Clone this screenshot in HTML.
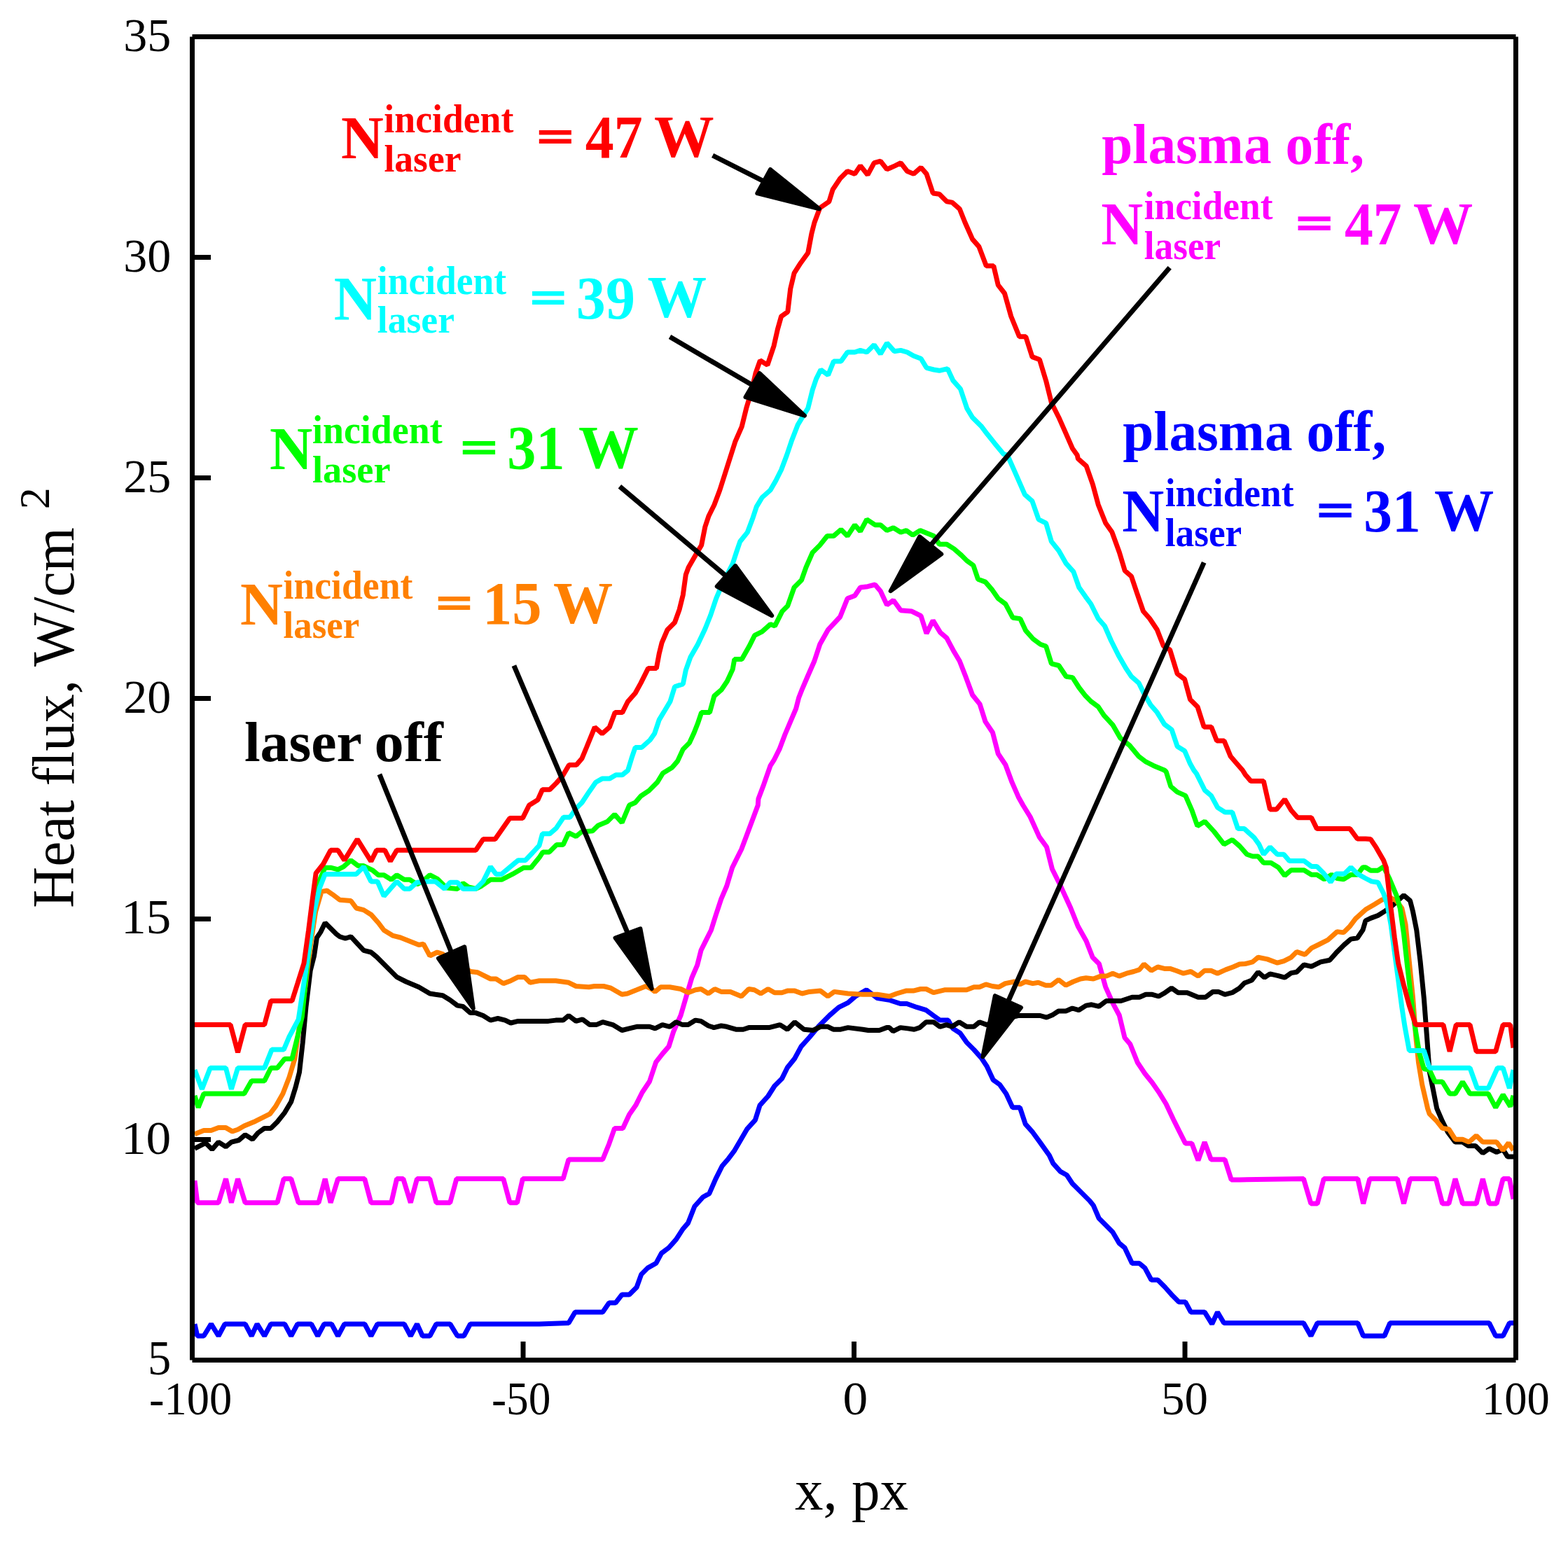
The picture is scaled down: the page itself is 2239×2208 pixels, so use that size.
<!DOCTYPE html>
<html><head><meta charset="utf-8">
<style>
html,body{margin:0;padding:0;background:#fff;overflow:hidden;}
svg{display:block;}
.c{fill:none;stroke-width:7;stroke-linejoin:bevel;stroke-linecap:butt;}
text{font-family:"Liberation Serif","Times New Roman",serif;}
</style></head><body>
<svg width="2239" height="2208" viewBox="0 0 2239 2208">
<rect x="0" y="0" width="2239" height="2208" fill="#fff"/>
<text transform="matrix(0.9780 0 0 1.0175 487.04 225.50)" font-size="86" font-weight="bold" fill="#ff0000">N</text>
<text transform="matrix(0.9261 0 0 0.9732 548.37 189.03)" font-size="58" font-weight="bold" fill="#ff0000">incident</text>
<text transform="matrix(0.9248 0 0 0.9463 548.38 244.85)" font-size="58" font-weight="bold" fill="#ff0000">laser</text>
<text transform="matrix(1.0744 0 0 0.7370 766.68 216.86)" font-size="86" font-weight="bold" fill="#ff0000" stroke="#ff0000" stroke-width="2.9">=</text>
<text transform="matrix(0.9518 0 0 1.0103 835.85 224.69)" font-size="86" font-weight="bold" fill="#ff0000">47</text>
<text transform="matrix(0.9964 0 0 0.9763 934.00 223.75)" font-size="86" font-weight="bold" fill="#ff0000">W</text>
<text transform="matrix(0.9864 0 0 1.0211 476.83 456.00)" font-size="86" font-weight="bold" fill="#00ffff">N</text>
<text transform="matrix(0.9226 0 0 0.9732 538.78 419.73)" font-size="58" font-weight="bold" fill="#00ffff">incident</text>
<text transform="matrix(0.9248 0 0 0.9512 538.78 474.95)" font-size="58" font-weight="bold" fill="#00ffff">laser</text>
<text transform="matrix(1.0605 0 0 0.7407 757.12 446.61)" font-size="86" font-weight="bold" fill="#00ffff" stroke="#00ffff" stroke-width="2.9">=</text>
<text transform="matrix(0.9775 0 0 1.0136 822.87 454.99)" font-size="86" font-weight="bold" fill="#00ffff">39</text>
<text transform="matrix(0.9833 0 0 0.9746 924.42 453.45)" font-size="86" font-weight="bold" fill="#00ffff">W</text>
<text transform="matrix(0.9864 0 0 1.0158 384.93 669.90)" font-size="86" font-weight="bold" fill="#00ff00">N</text>
<text transform="matrix(0.9296 0 0 0.9732 445.97 633.13)" font-size="58" font-weight="bold" fill="#00ff00">incident</text>
<text transform="matrix(0.9368 0 0 0.9366 445.96 688.66)" font-size="58" font-weight="bold" fill="#00ff00">laser</text>
<text transform="matrix(1.0791 0 0 0.7370 657.66 660.76)" font-size="86" font-weight="bold" fill="#00ff00" stroke="#00ff00" stroke-width="2.9">=</text>
<text transform="matrix(0.9557 0 0 1.0271 724.33 669.47)" font-size="86" font-weight="bold" fill="#00ff00">31</text>
<text transform="matrix(0.9988 0 0 1.0034 825.90 668.49)" font-size="86" font-weight="bold" fill="#00ff00">W</text>
<text transform="matrix(0.9831 0 0 1.0211 343.03 892.00)" font-size="86" font-weight="bold" fill="#ff8000">N</text>
<text transform="matrix(0.9256 0 0 0.9732 404.47 855.43)" font-size="58" font-weight="bold" fill="#ff8000">incident</text>
<text transform="matrix(0.9128 0 0 0.9585 404.49 910.94)" font-size="58" font-weight="bold" fill="#ff8000">laser</text>
<text transform="matrix(1.0605 0 0 0.7370 622.82 882.76)" font-size="86" font-weight="bold" fill="#ff8000" stroke="#ff8000" stroke-width="2.9">=</text>
<text transform="matrix(0.9842 0 0 1.0172 688.91 890.68)" font-size="86" font-weight="bold" fill="#ff8000">15</text>
<text transform="matrix(0.9905 0 0 0.9746 790.11 889.75)" font-size="86" font-weight="bold" fill="#ff8000">W</text>
<text transform="matrix(0.9661 0 0 1.0088 1572.27 349.30)" font-size="86" font-weight="bold" fill="#ff00ff">N</text>
<text transform="matrix(0.9196 0 0 0.9732 1633.68 312.83)" font-size="58" font-weight="bold" fill="#ff00ff">incident</text>
<text transform="matrix(0.9197 0 0 0.9732 1633.68 369.73)" font-size="58" font-weight="bold" fill="#ff00ff">laser</text>
<text transform="matrix(1.0791 0 0 0.7593 1850.56 341.39)" font-size="86" font-weight="bold" fill="#ff00ff" stroke="#ff00ff" stroke-width="2.9">=</text>
<text transform="matrix(0.9494 0 0 1.0155 1920.05 348.88)" font-size="86" font-weight="bold" fill="#ff00ff">47</text>
<text transform="matrix(0.9929 0 0 0.9746 2017.91 347.95)" font-size="86" font-weight="bold" fill="#ff00ff">W</text>
<text transform="matrix(0.9661 0 0 1.0088 1602.27 759.30)" font-size="86" font-weight="bold" fill="#0000ff">N</text>
<text transform="matrix(0.9196 0 0 0.9732 1663.68 722.83)" font-size="58" font-weight="bold" fill="#0000ff">incident</text>
<text transform="matrix(0.9197 0 0 0.9732 1663.68 779.73)" font-size="58" font-weight="bold" fill="#0000ff">laser</text>
<text transform="matrix(1.0791 0 0 0.7593 1880.56 751.39)" font-size="86" font-weight="bold" fill="#0000ff" stroke="#0000ff" stroke-width="2.9">=</text>
<text transform="matrix(0.9481 0 0 0.9983 1947.26 758.90)" font-size="86" font-weight="bold" fill="#0000ff">31</text>
<text transform="matrix(0.9929 0 0 0.9746 2047.91 757.95)" font-size="86" font-weight="bold" fill="#0000ff">W</text>
<text transform="matrix(0.9218 0 0 0.9367 1573.28 232.50)" font-size="86" font-weight="bold" fill="#ff00ff">plasma</text>
<text transform="matrix(0.9250 0 0 0.9600 1835.62 233.82)" font-size="86" font-weight="bold" fill="#ff00ff">off,</text>
<text transform="matrix(0.9218 0 0 0.9367 1603.28 642.50)" font-size="86" font-weight="bold" fill="#0000ff">plasma</text>
<text transform="matrix(0.9330 0 0 0.9600 1865.60 643.82)" font-size="86" font-weight="bold" fill="#0000ff">off,</text>
<text transform="matrix(0.9509 0 0 0.9426 348.90 1086.76)" font-size="86" font-weight="bold" fill="#000000">laser</text>
<text transform="matrix(0.9816 0 0 0.9349 534.56 1086.77)" font-size="86" font-weight="bold" fill="#000000">off</text>
<text transform="matrix(0.9639 0 0 0.9793 1135.04 2156.17)" font-size="84" font-weight="normal" fill="#000000">x, px</text>
<text transform="matrix(0.9757 0 0 0.9473 104.72 1296.69) rotate(-90)" font-size="86" font-weight="normal" fill="#000000">Heat flux, W/cm</text>
<text transform="matrix(1.0500 0 0 1.0708 70.00 727.14) rotate(-90)" font-size="58" font-weight="normal" fill="#000000">2</text>
<text transform="matrix(1.0000 0 0 1.0043 176.20 72.80)" font-size="68" font-weight="normal" fill="#000000">35</text>
<text transform="matrix(1.0000 0 0 1.0043 176.20 387.80)" font-size="68" font-weight="normal" fill="#000000">30</text>
<text transform="matrix(1.0000 0 0 1.0043 176.20 702.80)" font-size="68" font-weight="normal" fill="#000000">25</text>
<text transform="matrix(1.0000 0 0 1.0043 176.20 1017.80)" font-size="68" font-weight="normal" fill="#000000">20</text>
<text transform="matrix(1.0508 0 0 1.0267 172.89 1332.77)" font-size="68" font-weight="normal" fill="#000000">15</text>
<text transform="matrix(1.0508 0 0 1.0043 172.89 1647.80)" font-size="68" font-weight="normal" fill="#000000">10</text>
<text transform="matrix(0.9778 0 0 1.0267 210.89 1962.77)" font-size="68" font-weight="normal" fill="#000000">5</text>
<text transform="matrix(0.9475 0 0 0.9913 213.10 2019.61)" font-size="68" font-weight="normal" fill="#000000">-100</text>
<text transform="matrix(0.9314 0 0 1.0000 702.04 2019.90)" font-size="68" font-weight="normal" fill="#000000">-50</text>
<text transform="matrix(1.0500 0 0 1.0043 1203.45 2020.10)" font-size="68" font-weight="normal" fill="#000000">0</text>
<text transform="matrix(0.9852 0 0 1.0000 1658.06 2019.90)" font-size="68" font-weight="normal" fill="#000000">50</text>
<text transform="matrix(0.9495 0 0 0.9913 2116.00 2019.61)" font-size="68" font-weight="normal" fill="#000000">100</text>
<polyline class="c" stroke="#ff00ff" points="278.0,1686.2 281.8,1717.7 312.0,1717.7 322.5,1683.6 330.4,1717.7 339.6,1683.6 350.1,1717.7 396.0,1717.7 405.2,1683.6 415.7,1683.6 426.2,1717.7 455.0,1717.7 464.2,1683.6 472.1,1717.7 482.6,1683.6 520.7,1683.6 529.8,1717.7 558.7,1717.7 566.6,1683.6 575.8,1683.6 586.3,1717.7 595.5,1683.6 613.8,1683.6 623.0,1717.7 642.7,1717.7 651.9,1683.6 718.8,1683.6 728.0,1717.7 738.5,1717.7 746.4,1683.6 770.0,1683.6 804.1,1683.6 812.0,1656.0 860.6,1656.0 869.7,1633.7 877.6,1611.4 889.4,1611.4 898.6,1591.7 907.8,1578.6 917.0,1560.2 927.5,1544.5 936.7,1516.9 945.9,1505.1 955.0,1494.6 961.6,1473.6 972.1,1450.0 980.0,1423.0 987.8,1396.7 995.7,1378.3 1001.0,1357.3 1008.8,1341.6 1015.4,1328.5 1022.0,1307.5 1029.8,1283.9 1037.7,1265.5 1045.6,1239.2 1050.8,1228.7 1058.7,1213.0 1066.6,1192.0 1082.3,1150.0 1082.9,1140.9 1090.8,1119.9 1100.0,1093.7 1105.1,1085.7 1113.0,1069.9 1120.9,1049.0 1128.7,1030.6 1136.6,1012.2 1140.6,996.5 1145.8,983.3 1153.7,965.0 1162.9,944.0 1170.7,920.3 1182.5,899.3 1199.6,881.0 1210.1,854.7 1220.6,850.8 1228.5,839.0 1239.0,837.7 1249.5,835.0 1257.3,844.2 1266.5,863.9 1275.7,857.3 1286.2,871.8 1302.0,873.1 1315.1,879.7 1323.0,904.6 1332.2,886.2 1342.7,903.3 1351.8,911.2 1362.3,930.8 1370.2,944.0 1379.4,967.6 1388.6,992.5 1399.1,1005.6 1407.0,1030.6 1417.5,1046.3 1425.3,1076.5 1435.8,1092.3 1445.0,1117.2 1454.2,1138.2 1460.8,1150.0 1471.0,1166.5 1484.1,1195.4 1494.6,1209.8 1502.5,1241.3 1513.0,1262.3 1528.7,1296.5 1539.2,1322.7 1551.0,1343.7 1560.2,1367.3 1569.4,1376.5 1578.6,1409.3 1589.1,1432.9 1598.3,1450.0 1606.0,1482.0 1613.8,1491.2 1624.3,1517.5 1634.8,1533.2 1645.3,1546.3 1654.5,1559.4 1665.0,1576.5 1675.5,1598.8 1683.4,1614.6 1692.6,1632.9 1701.8,1632.9 1710.9,1657.3 1720.1,1631.1 1729.3,1656.0 1749.0,1656.0 1758.2,1684.9 1770.0,1684.9 1861.4,1683.6 1871.9,1719.0 1881.1,1719.0 1890.3,1683.6 1938.8,1683.6 1946.7,1719.0 1955.9,1683.6 1995.3,1683.6 2004.5,1719.0 2013.6,1683.6 2050.4,1683.6 2059.6,1719.0 2068.8,1719.0 2078.0,1683.6 2088.5,1719.0 2108.1,1719.0 2117.3,1683.6 2126.5,1719.0 2137.0,1719.0 2146.2,1683.6 2155.4,1683.6 2161.0,1712.5"/>
<polyline class="c" stroke="#0000ff" points="278.0,1890.9 281.8,1908.0 291.0,1908.0 301.5,1890.9 312.0,1908.0 321.2,1890.9 350.1,1890.9 359.2,1908.0 367.1,1890.9 377.6,1908.0 386.8,1890.9 406.5,1890.9 415.7,1908.0 424.9,1890.9 444.5,1890.9 453.7,1908.0 462.9,1890.9 473.4,1890.9 482.6,1908.0 491.8,1890.9 520.7,1890.9 529.8,1908.0 539.0,1890.9 577.1,1890.9 586.3,1908.0 595.5,1890.9 603.3,1908.0 613.8,1908.0 623.0,1890.9 642.7,1890.9 653.2,1908.0 662.4,1908.0 671.6,1890.9 770.0,1890.9 812.0,1889.6 821.2,1873.9 860.6,1873.9 869.7,1860.8 878.9,1860.8 888.1,1849.0 898.6,1849.0 909.1,1838.5 915.7,1820.1 924.9,1810.9 936.7,1804.3 944.5,1789.9 955.0,1782.0 965.5,1770.2 974.7,1755.8 982.6,1746.6 991.8,1723.0 1003.6,1709.8 1012.8,1704.6 1022.0,1683.6 1031.2,1665.2 1040.3,1654.7 1048.2,1644.2 1057.4,1628.5 1066.6,1612.7 1078.4,1599.6 1085.0,1578.6 1096.8,1565.5 1106.0,1551.0 1116.5,1540.6 1124.3,1524.8 1134.8,1511.7 1144.0,1494.6 1155.8,1481.5 1169.0,1465.7 1184.7,1450.0 1197.8,1438.7 1210.9,1432.2 1221.4,1423.0 1237.2,1413.8 1252.9,1425.6 1270.0,1428.2 1285.7,1433.5 1294.9,1433.5 1309.4,1438.7 1322.5,1442.7 1333.0,1450.5 1342.2,1457.1 1354.0,1457.1 1360.6,1468.9 1371.0,1475.5 1380.2,1488.6 1390.7,1499.1 1401.2,1510.9 1409.1,1522.7 1418.3,1542.4 1427.5,1549.0 1436.7,1562.1 1445.9,1581.8 1456.4,1581.8 1464.2,1605.4 1474.7,1617.2 1485.2,1631.6 1498.3,1650.0 1503.6,1661.3 1514.1,1673.1 1523.3,1678.3 1531.2,1690.2 1545.6,1704.6 1556.1,1715.1 1561.3,1721.7 1569.2,1740.0 1579.7,1750.5 1588.9,1759.7 1598.1,1775.5 1606.0,1782.0 1616.5,1804.3 1627.0,1804.3 1634.8,1810.9 1644.0,1828.0 1653.2,1828.0 1663.7,1838.5 1674.2,1850.3 1683.4,1859.4 1692.6,1859.4 1700.4,1873.9 1720.1,1873.9 1730.6,1890.9 1738.5,1873.9 1747.7,1889.6 1770.0,1889.6 1861.4,1889.6 1871.9,1908.0 1881.1,1889.6 1938.8,1889.6 1946.7,1908.0 1976.9,1908.0 1984.8,1889.6 2126.5,1889.6 2135.7,1908.0 2146.2,1908.0 2155.4,1889.6 2161.0,1889.6"/>
<polyline class="c" stroke="#000000" points="278.0,1640.3 285.7,1636.4 293.6,1632.4 302.8,1641.6 312.0,1631.1 322.5,1637.7 330.4,1631.1 340.9,1628.5 350.1,1620.6 360.6,1627.2 368.4,1618.0 377.6,1611.4 386.8,1611.4 396.0,1602.2 406.5,1589.1 415.7,1573.4 422.2,1552.4 427.5,1531.4 432.2,1489.4 436.9,1438.7 443.2,1386.2 448.5,1365.5 452.4,1339.2 457.7,1331.4 464.2,1318.0 480.0,1333.7 485.2,1337.7 493.1,1340.3 501.0,1337.7 519.3,1357.3 529.8,1360.0 537.7,1366.5 566.6,1395.4 579.7,1402.0 598.1,1409.8 613.8,1419.0 621.7,1420.3 632.2,1421.7 642.7,1428.2 653.2,1436.1 661.1,1437.4 671.6,1446.6 679.4,1446.6 689.9,1450.5 700.4,1457.1 710.9,1454.5 721.4,1457.1 729.3,1461.0 739.8,1458.4 770.0,1458.4 783.1,1458.4 793.6,1457.1 804.1,1457.1 812.0,1450.5 822.5,1458.4 831.7,1455.8 842.2,1463.6 851.4,1463.6 860.6,1459.7 875.0,1463.6 888.1,1471.5 898.6,1468.9 909.1,1466.3 927.5,1466.3 935.4,1468.9 945.9,1463.6 956.4,1466.3 965.5,1459.7 974.7,1463.6 982.6,1463.6 993.1,1457.1 1001.0,1458.4 1011.5,1465.0 1019.3,1467.6 1029.8,1465.0 1037.7,1466.3 1050.8,1470.2 1061.3,1470.2 1069.2,1467.6 1098.1,1467.6 1113.8,1463.6 1124.3,1470.2 1134.8,1459.7 1148.0,1470.2 1161.1,1471.5 1171.6,1466.3 1182.1,1466.3 1189.9,1470.2 1200.4,1470.2 1210.9,1467.6 1231.9,1470.2 1239.8,1471.5 1255.6,1471.5 1266.1,1467.6 1270.0,1467.6 1275.2,1472.8 1285.7,1467.6 1296.2,1468.9 1305.4,1470.2 1313.3,1467.6 1322.5,1459.7 1333.0,1459.7 1342.2,1466.3 1351.4,1463.6 1359.2,1466.3 1369.7,1459.7 1380.2,1466.3 1390.7,1466.3 1398.6,1459.7 1409.1,1463.6 1427.5,1457.1 1453.7,1450.5 1485.2,1450.5 1494.4,1453.1 1503.6,1449.2 1511.5,1444.0 1522.0,1444.0 1531.2,1440.0 1540.3,1442.7 1550.8,1436.1 1558.7,1434.8 1569.2,1437.4 1579.7,1429.5 1600.7,1429.5 1616.5,1424.3 1627.0,1424.3 1636.1,1420.3 1645.3,1420.3 1654.5,1423.0 1663.7,1417.7 1672.9,1411.2 1682.1,1417.7 1695.2,1417.7 1710.9,1424.3 1721.4,1424.3 1731.9,1416.4 1739.8,1416.4 1749.0,1420.3 1759.5,1417.7 1770.0,1411.2 1776.8,1404.1 1787.3,1400.1 1796.5,1388.3 1805.6,1396.2 1813.5,1390.9 1825.3,1393.6 1834.5,1396.2 1843.7,1389.6 1851.6,1388.3 1862.1,1377.8 1872.6,1380.4 1885.7,1373.9 1898.8,1371.3 1909.3,1359.4 1919.8,1349.0 1929.0,1341.1 1938.2,1339.8 1946.1,1328.0 1950.0,1314.8 1957.2,1311.4 1967.7,1307.5 1978.2,1300.9 1988.7,1293.0 2004.5,1278.6 2013.6,1286.5 2017.6,1302.2 2022.8,1328.5 2028.1,1373.1 2033.3,1425.6 2037.3,1478.1 2041.2,1530.6 2046.5,1556.8 2051.7,1583.1 2059.6,1601.4 2067.5,1617.2 2078.0,1631.1 2088.5,1631.1 2096.3,1636.4 2106.8,1636.4 2117.3,1646.9 2126.5,1640.3 2137.0,1645.5 2146.2,1641.6 2152.8,1652.1 2161.0,1652.1"/>
<polyline class="c" stroke="#ff8000" points="278.0,1619.8 291.0,1614.6 301.5,1614.6 312.0,1610.6 322.5,1610.6 331.7,1615.9 339.6,1613.3 348.7,1608.0 364.5,1601.4 375.0,1596.2 385.5,1590.9 393.4,1580.4 403.9,1562.1 413.0,1538.5 420.9,1512.2 427.5,1465.0 435.4,1412.5 443.8,1346.9 450.6,1302.2 459.0,1273.4 466.9,1272.0 474.7,1277.3 485.2,1285.2 501.0,1286.5 508.8,1297.0 519.3,1299.6 529.8,1306.2 540.3,1318.0 548.2,1328.5 561.3,1336.4 571.8,1339.0 585.0,1344.2 598.1,1349.5 604.6,1348.2 613.8,1365.2 624.3,1360.0 632.2,1362.6 671.6,1387.5 682.1,1388.8 700.4,1398.0 708.3,1398.0 718.8,1404.6 729.3,1400.7 739.8,1395.4 749.0,1395.4 756.9,1403.3 770.0,1400.7 780.5,1400.7 793.6,1400.7 812.0,1403.3 822.5,1408.5 840.9,1409.8 848.7,1408.5 861.9,1408.5 872.4,1411.2 888.1,1420.3 896.0,1419.0 909.1,1413.8 922.2,1408.5 930.1,1412.5 935.4,1416.4 943.2,1409.8 956.4,1409.8 972.1,1412.5 982.6,1417.7 993.1,1413.8 1001.0,1412.5 1011.5,1419.0 1020.7,1412.5 1029.8,1416.4 1043.0,1416.4 1058.7,1423.0 1069.2,1412.5 1077.1,1413.8 1086.3,1419.0 1096.8,1412.5 1106.0,1417.7 1116.5,1417.7 1124.3,1415.1 1134.8,1415.1 1145.3,1419.0 1155.8,1416.4 1171.6,1415.1 1182.1,1423.0 1191.3,1416.4 1210.9,1419.0 1231.9,1420.3 1252.9,1420.3 1270.0,1423.0 1280.5,1419.0 1293.6,1415.1 1304.1,1415.1 1314.6,1412.5 1322.5,1412.5 1333.0,1417.7 1348.7,1413.8 1380.2,1413.8 1390.7,1409.8 1398.6,1409.8 1407.8,1405.9 1417.0,1408.5 1426.2,1409.8 1435.4,1404.6 1448.5,1402.0 1456.4,1405.9 1464.2,1402.0 1474.7,1404.6 1482.6,1403.3 1493.1,1407.2 1501.0,1407.2 1511.5,1399.3 1522.0,1407.2 1532.5,1402.0 1543.0,1398.0 1550.8,1396.7 1561.3,1398.0 1571.8,1394.1 1579.7,1394.1 1588.9,1390.2 1598.1,1394.1 1608.6,1390.2 1619.1,1387.5 1627.0,1384.9 1633.5,1377.0 1644.0,1386.2 1653.2,1381.0 1663.7,1383.6 1671.6,1383.6 1679.4,1386.2 1689.9,1390.2 1700.4,1387.5 1710.9,1394.1 1720.1,1386.2 1729.3,1386.2 1738.5,1390.2 1750.3,1384.9 1760.8,1381.0 1770.0,1377.0 1778.1,1376.5 1788.6,1373.9 1796.5,1367.3 1809.6,1369.9 1824.0,1375.2 1833.2,1372.6 1843.7,1367.3 1851.6,1359.4 1863.4,1363.4 1872.6,1354.2 1883.1,1349.0 1896.2,1342.4 1909.3,1330.6 1918.5,1331.9 1927.7,1322.7 1935.6,1312.2 1950.0,1299.1 1962.5,1291.7 1973.0,1285.2 1983.5,1281.2 1994.0,1286.5 2001.8,1297.0 2007.1,1320.6 2012.3,1373.1 2017.6,1425.6 2021.5,1478.1 2025.5,1517.5 2030.7,1549.0 2038.6,1583.1 2041.2,1590.9 2051.7,1601.4 2059.6,1611.4 2068.8,1612.7 2078.0,1627.2 2088.5,1627.2 2097.6,1631.1 2108.1,1621.9 2117.3,1631.1 2137.0,1631.1 2146.2,1642.9 2154.1,1632.4 2161.0,1642.9"/>
<polyline class="c" stroke="#00ff00" points="278.0,1564.7 283.1,1581.8 291.0,1562.1 348.7,1562.1 359.2,1543.7 377.6,1543.7 386.8,1525.3 396.0,1525.3 406.5,1512.2 417.0,1512.2 424.9,1480.7 431.4,1451.8 438.0,1386.2 445.9,1312.7 453.7,1262.9 464.2,1239.2 472.1,1239.2 482.6,1241.9 490.5,1237.9 501.0,1228.7 511.5,1236.6 519.3,1236.6 532.5,1243.2 540.3,1249.7 548.2,1249.7 558.7,1256.3 566.6,1249.7 577.1,1256.3 585.0,1256.3 595.5,1262.9 603.3,1258.9 613.8,1249.7 624.3,1255.0 637.5,1268.1 653.2,1269.4 661.1,1261.5 669.0,1266.8 679.4,1269.4 687.3,1265.5 700.4,1256.3 716.2,1256.3 731.9,1248.4 747.7,1239.2 758.2,1239.2 770.0,1224.8 775.2,1216.9 784.4,1216.9 794.9,1206.4 804.1,1206.4 812.0,1189.4 822.5,1194.6 830.4,1188.1 846.1,1186.7 854.0,1178.9 867.1,1173.6 877.6,1163.1 888.1,1174.9 898.6,1150.0 907.1,1146.2 915.0,1137.0 926.8,1129.1 938.6,1117.3 946.5,1104.2 959.6,1096.3 967.5,1087.1 975.3,1070.1 984.5,1060.9 991.1,1046.5 996.3,1033.3 1001.6,1017.6 1013.4,1017.6 1019.9,994.0 1030.4,984.8 1038.3,973.0 1046.2,955.9 1048.8,941.5 1059.3,941.5 1069.8,923.1 1077.7,907.3 1088.2,902.1 1100.0,891.6 1106.4,894.1 1116.9,873.1 1124.8,865.2 1134.0,839.0 1144.5,828.5 1151.0,810.1 1160.2,789.1 1170.7,778.6 1181.2,765.5 1190.4,765.5 1200.9,756.3 1210.1,765.5 1220.6,749.7 1228.5,758.9 1237.7,741.9 1249.5,749.7 1257.3,749.7 1266.5,757.6 1275.7,753.7 1286.2,760.2 1294.1,757.6 1303.3,764.2 1313.8,757.6 1333.5,765.5 1341.3,777.3 1351.8,777.3 1362.3,783.9 1372.8,793.0 1380.7,800.9 1389.9,807.5 1396.5,827.2 1407.0,831.1 1416.1,841.6 1425.3,854.7 1435.8,862.6 1446.3,882.3 1456.8,883.6 1464.7,900.7 1475.2,912.5 1485.7,920.3 1493.6,923.0 1501.4,947.9 1511.9,950.5 1522.4,966.3 1531.6,967.6 1540.8,982.0 1550.0,993.8 1557.7,1001.6 1568.2,1009.4 1576.1,1021.3 1589.2,1035.7 1599.7,1054.1 1612.9,1064.6 1626.0,1080.3 1636.5,1088.2 1647.0,1093.4 1662.7,1100.0 1665.2,1102.2 1671.8,1123.2 1681.0,1131.1 1692.8,1136.4 1702.0,1157.3 1709.8,1179.7 1720.3,1173.1 1733.5,1187.5 1747.9,1205.9 1759.7,1199.3 1770.2,1208.5 1780.7,1220.3 1788.6,1223.0 1796.5,1223.0 1804.3,1232.2 1814.8,1232.2 1825.3,1238.7 1834.5,1250.5 1843.7,1242.7 1862.1,1242.7 1872.6,1249.2 1880.4,1249.2 1890.9,1255.8 1901.4,1249.2 1909.3,1254.5 1918.5,1255.8 1929.0,1249.2 1938.2,1249.2 1946.1,1238.7 1950.0,1238.7 1957.2,1243.2 1967.7,1243.2 1975.6,1237.9 1983.5,1253.7 1994.0,1278.6 1999.2,1297.0 2004.5,1333.7 2009.7,1381.0 2015.0,1425.6 2020.2,1465.0 2026.8,1504.3 2033.3,1526.6 2041.2,1528.0 2049.1,1545.0 2059.6,1545.0 2070.1,1562.1 2078.0,1562.1 2088.5,1545.0 2099.0,1562.1 2125.2,1562.1 2135.7,1581.8 2146.2,1563.4 2156.7,1580.4 2161.0,1564.7"/>
<polyline class="c" stroke="#00ffff" points="278.0,1528.0 288.4,1555.5 300.2,1525.3 322.5,1525.3 330.4,1555.5 339.6,1525.3 377.6,1525.3 388.1,1499.1 405.2,1499.1 413.0,1480.7 426.2,1455.8 432.7,1412.5 440.6,1360.0 448.5,1302.2 456.4,1268.1 464.2,1248.4 508.8,1248.4 519.3,1237.9 529.8,1258.9 539.0,1258.9 548.2,1279.9 566.6,1258.9 577.1,1269.4 585.0,1269.4 595.5,1260.2 611.2,1258.9 621.7,1258.9 634.8,1269.4 642.7,1260.2 653.2,1260.2 661.1,1269.4 679.4,1269.4 689.9,1258.9 700.4,1237.9 708.3,1248.4 716.2,1248.4 739.8,1228.7 750.3,1228.7 770.0,1207.7 774.5,1190.8 785.0,1190.8 794.2,1182.9 804.7,1167.2 813.9,1167.2 823.1,1154.1 831.0,1146.2 841.5,1130.4 850.7,1117.3 859.8,1112.1 870.3,1112.1 879.5,1106.8 888.7,1106.8 896.6,1100.3 901.8,1083.2 907.1,1067.5 916.3,1067.5 928.1,1057.0 934.6,1047.8 941.2,1028.1 949.1,1015.0 957.0,1001.8 963.5,980.8 975.3,976.9 979.3,957.2 985.8,938.8 996.3,920.5 1006.8,898.2 1014.7,878.5 1022.6,854.9 1030.4,836.5 1040.9,815.5 1046.2,805.0 1051.4,789.2 1056.7,773.5 1067.2,760.4 1075.1,739.4 1080.3,723.6 1088.2,710.5 1100.0,700.0 1107.7,686.7 1115.6,671.0 1123.5,650.0 1130.1,630.3 1139.2,606.7 1147.1,593.6 1153.7,583.1 1160.2,556.8 1165.5,541.1 1172.0,528.0 1182.5,535.8 1190.4,516.1 1200.9,516.1 1210.1,503.0 1220.6,503.0 1228.5,500.4 1237.7,503.0 1248.2,492.5 1257.3,505.6 1266.5,489.9 1277.0,501.7 1286.2,500.4 1295.4,503.0 1304.6,508.3 1315.1,512.2 1323.0,525.3 1333.5,528.0 1341.3,529.3 1353.1,526.6 1361.0,543.7 1371.5,555.5 1380.7,583.1 1388.6,596.2 1401.7,609.3 1409.6,619.8 1420.1,632.9 1433.2,648.7 1438.5,650.0 1449.0,673.6 1463.4,706.4 1473.9,715.6 1483.1,741.9 1493.6,747.1 1501.4,773.4 1511.9,786.5 1522.4,804.9 1532.9,816.7 1540.8,839.0 1550.0,852.1 1557.7,862.5 1568.2,883.5 1577.4,894.0 1586.6,915.0 1597.1,936.0 1607.6,954.3 1615.5,966.1 1626.0,975.3 1633.9,991.1 1643.0,1006.8 1652.2,1017.3 1662.7,1034.4 1673.2,1042.3 1681.1,1065.9 1691.6,1072.4 1699.5,1090.8 1704.7,1100.0 1708.5,1104.9 1720.3,1128.5 1729.5,1136.4 1738.7,1153.4 1749.2,1160.0 1759.7,1160.0 1767.6,1183.6 1776.8,1183.6 1791.2,1196.7 1797.8,1205.9 1804.3,1220.3 1813.5,1209.8 1824.0,1220.3 1833.2,1220.3 1841.1,1229.5 1862.1,1229.5 1872.6,1237.4 1880.4,1237.4 1889.6,1246.6 1900.1,1259.7 1908.0,1247.9 1919.8,1247.9 1929.0,1238.7 1938.2,1247.9 1950.0,1254.5 1958.5,1258.9 1967.7,1260.2 1975.6,1276.0 1980.8,1291.7 1986.1,1320.6 1991.3,1360.0 1996.6,1399.3 2001.8,1438.7 2005.8,1465.0 2012.3,1500.4 2033.3,1500.4 2041.2,1525.3 2099.0,1525.3 2109.4,1554.2 2125.2,1554.2 2138.3,1525.3 2146.2,1525.3 2155.4,1554.2 2161.0,1528.0"/>
<polyline class="c" stroke="#ff0000" points="278.0,1463.6 329.1,1463.6 339.6,1503.0 350.1,1463.6 377.6,1463.6 386.8,1429.5 417.0,1429.5 424.9,1404.6 434.0,1375.7 440.6,1328.5 445.9,1286.5 451.1,1247.1 461.6,1234.0 472.1,1214.3 482.6,1214.3 491.8,1228.7 510.2,1198.6 529.8,1230.1 537.7,1214.3 549.5,1214.3 557.4,1230.1 566.6,1214.3 679.4,1214.3 689.9,1198.6 707.0,1198.6 728.0,1168.4 746.4,1168.4 755.6,1150.0 768.0,1142.3 774.5,1127.8 785.0,1127.8 794.2,1118.6 803.4,1108.1 812.6,1092.4 823.1,1092.4 831.0,1083.2 837.5,1067.5 849.3,1038.6 859.8,1047.8 870.3,1038.6 878.2,1017.6 888.7,1017.6 896.6,1001.8 907.1,990.0 915.0,975.6 925.5,954.6 937.3,954.6 941.2,933.6 945.1,917.8 953.0,899.5 963.5,889.0 970.1,870.6 975.3,849.6 979.3,820.7 983.2,810.2 993.7,791.9 1001.6,778.7 1006.8,752.5 1012.1,736.7 1019.9,721.0 1027.8,700.0 1050.0,630.3 1059.2,609.3 1065.7,583.1 1073.6,556.8 1078.9,533.2 1085.4,514.8 1095.9,521.4 1105.1,493.8 1110.4,470.2 1115.6,451.8 1124.8,445.3 1128.7,412.5 1134.0,390.2 1143.2,375.7 1153.7,361.3 1158.9,333.7 1162.9,318.0 1170.7,297.0 1183.9,287.8 1189.1,270.7 1199.6,255.0 1210.1,244.5 1220.6,248.4 1228.5,236.6 1239.0,249.7 1248.2,232.7 1257.3,230.1 1266.5,241.9 1278.3,236.6 1286.2,232.7 1295.4,244.5 1304.6,248.4 1315.1,239.2 1323.0,248.4 1332.2,276.0 1341.3,277.3 1351.8,287.8 1359.7,289.1 1370.2,298.3 1378.1,318.0 1388.6,341.6 1397.8,352.1 1408.3,379.7 1418.8,379.7 1425.3,407.2 1434.5,419.0 1443.7,451.8 1455.5,480.7 1464.7,480.7 1473.9,509.6 1484.4,513.5 1493.6,543.7 1501.4,575.2 1511.9,596.2 1522.4,619.8 1531.6,640.8 1538.2,650.0 1539.4,655.1 1551.2,665.6 1560.4,691.9 1568.2,720.7 1578.7,747.0 1587.9,760.1 1598.4,789.0 1606.3,815.2 1615.5,823.1 1623.4,846.7 1632.5,873.0 1641.7,883.5 1652.2,899.2 1661.4,922.8 1670.6,928.1 1681.1,962.2 1691.6,970.1 1699.5,999.0 1710.0,1009.4 1719.2,1038.3 1729.7,1038.3 1737.5,1058.0 1748.0,1058.0 1757.2,1080.3 1765.1,1089.5 1774.3,1100.0 1778.1,1106.2 1786.0,1115.4 1804.3,1115.4 1813.5,1156.0 1822.7,1156.0 1834.5,1141.6 1843.7,1157.3 1852.9,1167.8 1872.6,1167.8 1880.4,1183.6 1927.7,1183.6 1938.2,1198.0 1950.0,1198.0 1957.2,1198.6 1965.1,1210.4 1975.6,1228.7 1979.5,1239.2 1982.2,1262.9 1986.1,1297.0 1991.3,1339.0 1996.6,1375.7 2004.5,1407.2 2012.3,1436.1 2021.5,1463.6 2060.9,1463.6 2070.1,1501.7 2079.3,1463.6 2099.0,1463.6 2108.1,1501.7 2135.7,1501.7 2146.2,1463.6 2156.7,1463.6 2161.0,1496.5"/>
<g stroke="#000" stroke-width="7" fill="none" stroke-linecap="butt">
<line x1="274.5" y1="52.5" x2="274.5" y2="1942.5"/>
<line x1="274.5" y1="52.5" x2="2164.5" y2="52.5"/>
<line x1="2164.5" y1="52.5" x2="2164.5" y2="1942.5"/>
<line x1="274.5" y1="1942.5" x2="2164.5" y2="1942.5"/>
<line x1="278" y1="1627.5" x2="301" y2="1627.5"/>
<line x1="278" y1="1312.5" x2="301" y2="1312.5"/>
<line x1="278" y1="997.5" x2="301" y2="997.5"/>
<line x1="278" y1="682.5" x2="301" y2="682.5"/>
<line x1="278" y1="367.5" x2="301" y2="367.5"/>
<line x1="747.0" y1="1939" x2="747.0" y2="1916"/>
<line x1="1219.5" y1="1939" x2="1219.5" y2="1916"/>
<line x1="1692.0" y1="1939" x2="1692.0" y2="1916"/>
</g>
<g fill="#000" stroke="#000">
<line x1="1017.6" y1="222.0" x2="1089.5" y2="258.4" stroke-width="7" stroke-linecap="butt"/>
<polygon points="1100.0,242.0 1169.9,298.4 1081.3,276.1" stroke-width="6.0" stroke-linejoin="round"/>
<line x1="956.5" y1="481.1" x2="1073.4" y2="549.5" stroke-width="7" stroke-linecap="butt"/>
<polygon points="1084.5,533.0 1148.9,593.7 1064.5,567.2" stroke-width="6.0" stroke-linejoin="round"/>
<line x1="884.9" y1="694.8" x2="1036.0" y2="822.0" stroke-width="7" stroke-linecap="butt"/>
<polygon points="1050.1,808.1 1102.2,879.3 1023.7,837.5" stroke-width="6.0" stroke-linejoin="round"/>
<line x1="733.9" y1="950.7" x2="896.0" y2="1331.8" stroke-width="7" stroke-linecap="butt"/>
<polygon points="878.5,1339.5 930.7,1412.1 914.4,1326.4" stroke-width="6.0" stroke-linejoin="round"/>
<line x1="541.9" y1="1105.9" x2="644.2" y2="1359.3" stroke-width="7" stroke-linecap="butt"/>
<polygon points="626.0,1368.7 675.8,1440.4 663.3,1352.2" stroke-width="6.0" stroke-linejoin="round"/>
<line x1="1670.2" y1="382.3" x2="1329.5" y2="778.0" stroke-width="7" stroke-linecap="butt"/>
<polygon points="1313.2,766.4 1271.7,844.1 1344.3,791.4" stroke-width="6.0" stroke-linejoin="round"/>
<line x1="1719.2" y1="803.4" x2="1439.9" y2="1429.5" stroke-width="7" stroke-linecap="butt"/>
<polygon points="1420.8,1422.2 1403.3,1509.3 1458.0,1439.0" stroke-width="6.0" stroke-linejoin="round"/>
</g>
</svg>
</body></html>
